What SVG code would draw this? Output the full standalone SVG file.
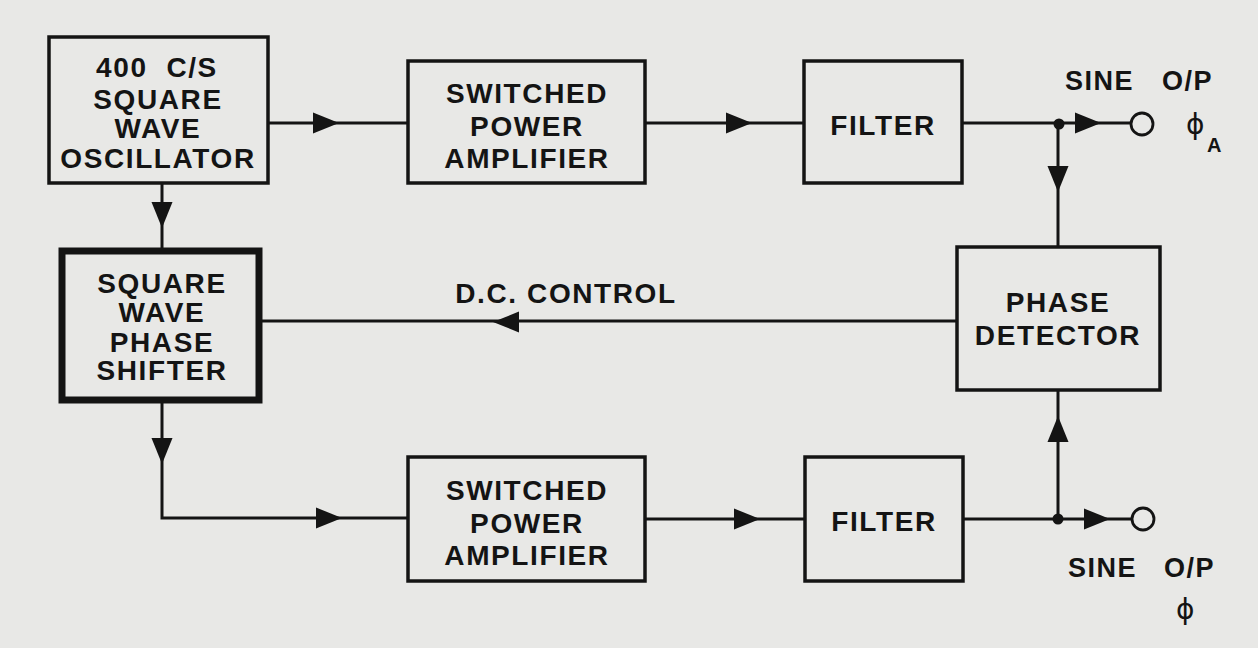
<svg xmlns="http://www.w3.org/2000/svg" width="1258" height="648" viewBox="0 0 1258 648">
<style>
.bx{fill:none;stroke:#141414;stroke-width:3.5}
.thick{fill:none;stroke:#141414;stroke-width:7}
.ln{fill:none;stroke:#141414;stroke-width:3}
.t{font-family:"Liberation Sans",Arial,sans-serif;font-weight:bold;font-size:28px;fill:#141414;text-anchor:middle;letter-spacing:1.6px}
.s{font-family:"Liberation Sans",Arial,sans-serif;font-weight:bold;font-size:27px;fill:#141414;letter-spacing:1.5px}
.phi{font-family:"DejaVu Sans",sans-serif;font-size:28px;fill:#141414}
</style>
<defs>
<path id="arr" d="M0,0 L-26,-10.5 L-26,10.5 Z" fill="#141414"/>
</defs>
<rect x="0" y="0" width="1258" height="648" fill="#e8e8e6"/>
<g id="connectors">
<path class="ln" d="M268,123 H408"/>
<path class="ln" d="M645,123 H804"/>
<path class="ln" d="M962,123 H1131"/>
<path class="ln" d="M1058,123 V247"/>
<path class="ln" d="M162,183 V251"/>
<path class="ln" d="M957,321 H262"/>
<path class="ln" d="M162,403 V518 H408"/>
<path class="ln" d="M645,519 H805"/>
<path class="ln" d="M963,519 H1131"/>
<path class="ln" d="M1058,519 V390"/>
<use href="#arr" transform="translate(339,123)"/>
<use href="#arr" transform="translate(752,123)"/>
<use href="#arr" transform="translate(1101,123)"/>
<use href="#arr" transform="translate(1058,192) rotate(90)"/>
<use href="#arr" transform="translate(162,228) rotate(90)"/>
<use href="#arr" transform="translate(493,322) rotate(180)"/>
<use href="#arr" transform="translate(162,464) rotate(90)"/>
<use href="#arr" transform="translate(342,518)"/>
<use href="#arr" transform="translate(760,519)"/>
<use href="#arr" transform="translate(1110,519)"/>
<use href="#arr" transform="translate(1058,416) rotate(-90)"/>
<circle cx="1059" cy="124" r="5.5" fill="#141414"/>
<circle cx="1058" cy="519" r="5.5" fill="#141414"/>
<circle cx="1142" cy="124" r="11" fill="#e8e8e6" stroke="#141414" stroke-width="2.8"/>
<circle cx="1143" cy="519" r="11" fill="#e8e8e6" stroke="#141414" stroke-width="2.8"/>
<text class="t" x="566" y="303">D.C. CONTROL</text>
</g>
<g id="oscillator">
<rect class="bx" x="49" y="37" width="219" height="146"/>
<text class="t" x="157" y="77" style="white-space:pre">400  C/S</text>
<text class="t" x="158" y="109">SQUARE</text>
<text class="t" x="158" y="138">WAVE</text>
<text class="t" x="158" y="168">OSCILLATOR</text>
</g>
<g id="phase_shifter">
<rect class="thick" x="62" y="251" width="197" height="149"/>
<text class="t" x="162" y="293">SQUARE</text>
<text class="t" x="162" y="322">WAVE</text>
<text class="t" x="162" y="352">PHASE</text>
<text class="t" x="162" y="380">SHIFTER</text>
</g>
<g id="amp_top">
<rect class="bx" x="408" y="61" width="237" height="122"/>
<text class="t" x="527" y="103">SWITCHED</text>
<text class="t" x="527" y="136">POWER</text>
<text class="t" x="527" y="168">AMPLIFIER</text>
</g>
<g id="filter_top">
<rect class="bx" x="804" y="61" width="158" height="122"/>
<text class="t" x="883" y="135">FILTER</text>
</g>
<g id="phase_detector">
<rect class="bx" x="957" y="247" width="203" height="143"/>
<text class="t" x="1058" y="312">PHASE</text>
<text class="t" x="1058" y="345">DETECTOR</text>
</g>
<g id="amp_bottom">
<rect class="bx" x="408" y="457" width="237" height="124"/>
<text class="t" x="527" y="500">SWITCHED</text>
<text class="t" x="527" y="533">POWER</text>
<text class="t" x="527" y="565">AMPLIFIER</text>
</g>
<g id="filter_bottom">
<rect class="bx" x="805" y="457" width="158" height="124"/>
<text class="t" x="884" y="531">FILTER</text>
</g>
<g id="output_a">
<text class="s" x="1065" y="90">SINE<tspan x="1162">O/P</tspan></text>
<text class="phi" x="1186" y="134">ϕ</text>
<text class="s" x="1207" y="152" style="font-size:20px">A</text>
</g>
<g id="output_b">
<text class="s" x="1068" y="577">SINE<tspan x="1164">O/P</tspan></text>
<text class="phi" x="1176" y="619">ϕ</text>
</g>
</svg>
